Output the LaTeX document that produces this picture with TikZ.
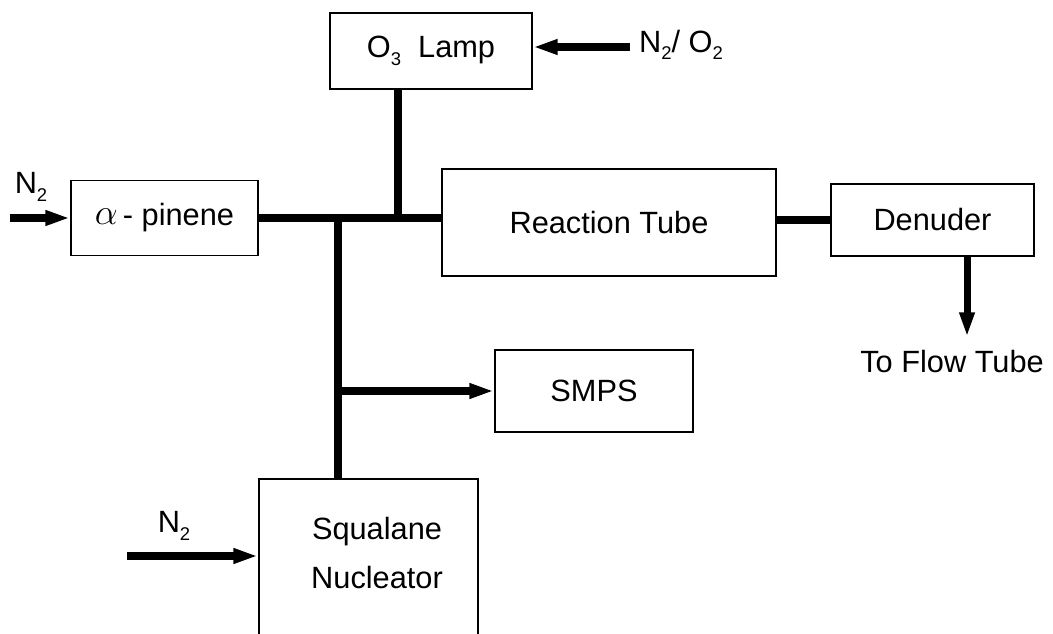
\documentclass[tikz,border=0pt]{standalone}
\usepackage{fontspec}
\setmainfont{Liberation Sans}
\usetikzlibrary{arrows.meta, positioning, calc}

\newcommand{\gsub}[1]{\raisebox{-0.45ex}{\fontsize{10.5}{11}\selectfont #1}}

\begin{document}
\begin{tikzpicture}[x=0.02cm, y=-0.02cm, >={Triangle[length=14pt,width=8pt]},
  box/.style={draw, line width=1.1pt, inner sep=0pt},
  pipe/.style={line width=4pt},
  font=\fontsize{17.5}{20}\selectfont]

  % Cornice
  \useasboundingbox (0,0) rectangle (1053,634);
  \clip (0,0) rectangle (1053,634);

  % Blocchi
  \node[box, minimum width=4.04cm, minimum height=1.52cm] (lamp) at (431,51) {O\gsub{3}\ \ Lamp};
  \node[box, minimum width=3.74cm, minimum height=1.5cm] (pinene) at (164.5,218) {\raisebox{0.1ex}{\fontsize{20}{20}\selectfont$\alpha$}\,- pinene};
  \node[box, minimum width=6.68cm, minimum height=2.14cm] (tube) at (609,222.5) {Reaction Tube};
  \node[box, minimum width=4.06cm, minimum height=1.44cm] (denuder) at (932.5,220) {Denuder};
  \node[box, minimum width=3.96cm, minimum height=1.64cm] (smps) at (594,391) {SMPS};
  \node[box, minimum width=4.38cm, minimum height=4cm, anchor=north] (squal) at (368.5,478) {};
  \node[align=center] (squaltxt) at (377,553) {Squalane\\[8pt]Nucleator};

  % Etichette
  \node (n2a) at (31,187) {N\gsub{2}};
  \node (gas) at (681,45) {N\gsub{2}/ O\gsub{2}};
  \node (n2c) at (174,526) {N\gsub{2}};
  \node (flow) at (952,362) {To Flow Tube};

  % Punti di giunzione
  \coordinate (jlamp) at (398,218);
  \coordinate (jdown) at (338,218);
  \coordinate (inA) at (10,218);
  \coordinate (inGas) at (630,47);
  \coordinate (inC) at (127,556);
  \coordinate (exit) at (967,337);

  % Condotti
  \draw[pipe] (pinene.east) -- (pinene.east -| tube.west);
  \draw[pipe] (lamp.south -| jlamp) -- (jlamp);
  \draw[pipe] (jdown) -- (jdown |- squal.north);
  \draw[pipe,->] (jdown |- smps.west) -- (smps.west);
  \draw[pipe] (tube.east |- denuder.west) -- (denuder.west);
  \draw[pipe,->] (denuder.south -| exit) -- (exit);

  % Ingressi
  \draw[pipe,->] (inA) -- (pinene.west);
  \draw[pipe,->] (inGas) -- (lamp.east |- inGas);
  \draw[pipe,->] (inC) -- (squal.west |- inC);
\end{tikzpicture}
\end{document}
